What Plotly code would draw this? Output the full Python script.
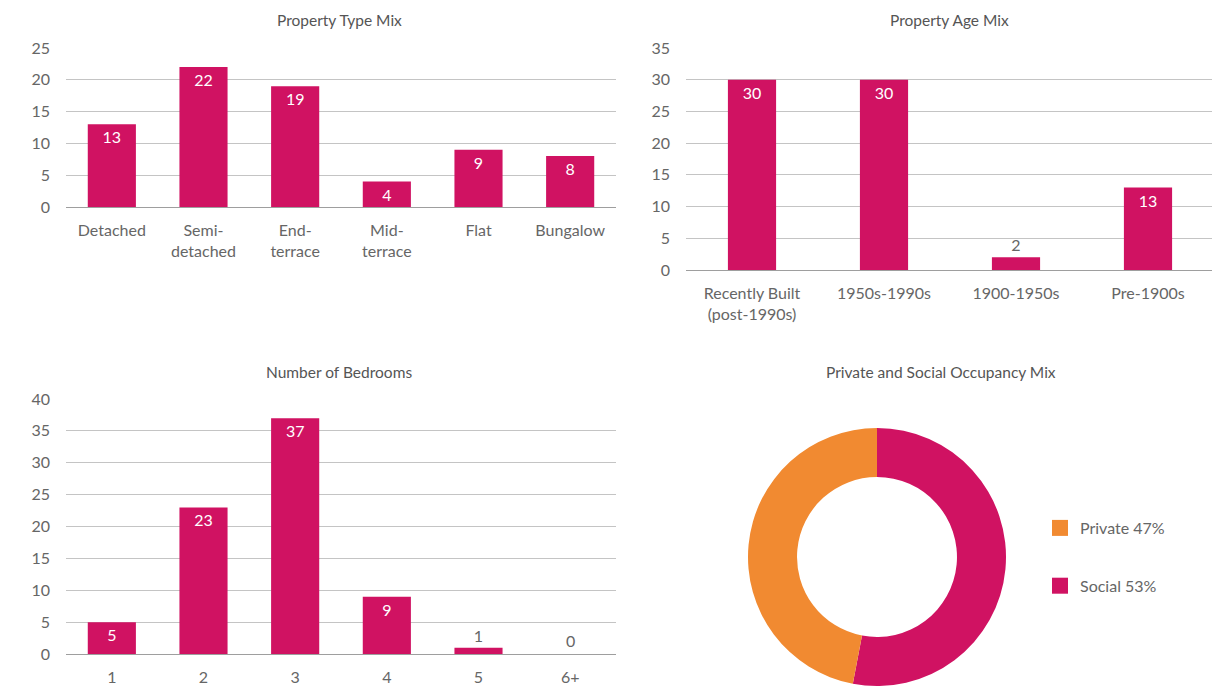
import plotly.graph_objects as go

# ---- data ----
type_labels = ["Detached", "Semi-<br>detached", "End-<br>terrace", "Mid-<br>terrace", "Flat", "Bungalow"]
type_values = [13, 22, 19, 4, 9, 8]

age_labels = ["Recently Built<br>(post-1990s)", "1950s-1990s", "1900-1950s", "Pre-1900s"]
age_values = [30, 30, 2, 13]

bed_labels = ["1", "2", "3", "4", "5", "6+"]
bed_values = [5, 23, 37, 9, 1, 0]

occ_labels = ["Private 47%", "Social 53%"]
occ_values = [47, 53]

# ---- style ----
W, H = 1220, 688
OFF = 8  # page body margin
PINK = "#D01262"
ORANGE = "#F18A31"
GRID = "#C4C4C4"
ZERO = "#9E9E9E"
TXT = "#666666"
FONT = "Lato"
occ_colors = [ORANGE, PINK]

def px(x):
    return (x - OFF) / W

def py(y):
    return 1 - (y - OFF) / H

fig = go.Figure()

def bar(xl, yv, xa, ya, w):
    return go.Bar(
        x=xl, y=yv, xaxis=xa, yaxis=ya, width=w,
        marker=dict(color=PINK, line=dict(width=0)),
        text=[str(v) for v in yv],
        textposition="auto",
        insidetextanchor="end",
        textangle=0,
        insidetextfont=dict(color="white", size=16, family=FONT),
        outsidetextfont=dict(color=TXT, size=16, family=FONT),
        cliponaxis=False,
        showlegend=False,
        hoverinfo="x+y",
    )

fig.add_trace(bar(type_labels, type_values, "x", "y", 0.525))
fig.add_trace(bar(age_labels, age_values, "x2", "y2", 0.365))
fig.add_trace(bar(bed_labels, bed_values, "x3", "y3", 0.525))

# Social first so that Private sits on the left side of 12 o'clock
fig.add_trace(go.Pie(
    labels=occ_labels[::-1], values=occ_values[::-1],
    hole=0.62, sort=False, direction="clockwise", rotation=0,
    marker=dict(colors=occ_colors[::-1], line=dict(width=0)),
    textinfo="none", showlegend=False,
    domain=dict(x=[px(748), px(1006)], y=[py(686), py(428)]),
))

# legend entries for the donut (with wider spacing)
for lab, col in zip(occ_labels, occ_colors):
    fig.add_trace(go.Scatter(
        x=[None], y=[None], xaxis="x", yaxis="y", mode="markers",
        marker=dict(symbol="square", size=16, color=col),
        name=lab, legendgroup=lab, showlegend=True,
    ))

axfont = dict(family=FONT, size=16, color=TXT)

def xax(dom, anchor):
    return dict(domain=dom, anchor=anchor, showgrid=False, showline=False,
                ticks="", tickfont=axfont, ticklabelstandoff=12,
                fixedrange=True, automargin=False)

def yax(dom, anchor, rng, dt):
    return dict(domain=dom, anchor=anchor, range=rng, dtick=dt,
                showgrid=True, gridcolor=GRID, gridwidth=1,
                zeroline=True, zerolinecolor=ZERO, zerolinewidth=1,
                showline=False, ticks="", tickfont=axfont,
                ticklabelstandoff=15, fixedrange=True, automargin=False)

tfont = dict(family=FONT, size=15.5, color="#555555")

def title(text, x, y):
    return dict(text=text, x=px(x), y=py(y), xref="paper", yref="paper",
                xanchor="center", yanchor="middle", showarrow=False, font=tfont)

annotations = [
    title("Property Type Mix", 339, 20),
    title("Property Age Mix", 949, 20),
    title("Number of Bedrooms", 339, 372),
    title("Private and Social Occupancy Mix", 941, 372),
]
# labels for zero-height bars (plotly hides text on empty bars)
for lab, v in zip(bed_labels, bed_values):
    if v == 0:
        annotations.append(dict(text=str(v), x=lab, y=v, xref="x3", yref="y3",
                                yanchor="bottom", yshift=2, showarrow=False,
                                font=dict(family=FONT, size=16, color=TXT)))

fig.update_layout(
    width=W, height=H,
    margin=dict(l=0, r=0, t=0, b=0, pad=0),
    paper_bgcolor="white", plot_bgcolor="white",
    font=dict(family=FONT, color=TXT),
    xaxis=xax([px(66), px(616)], "y"),
    yaxis=yax([py(207), py(48)], "x", [0, 25], 5),
    xaxis2=xax([px(686), px(1214)], "y2"),
    yaxis2=yax([py(270), py(48)], "x2", [0, 35], 5),
    xaxis3=xax([px(66), px(616)], "y3"),
    yaxis3=yax([py(654), py(399)], "x3", [0, 40], 5),
    legend=dict(x=px(1040), y=py(511), xanchor="left", yanchor="top",
                font=dict(family=FONT, size=16, color=TXT),
                tracegroupgap=34, itemsizing="trace",
                bgcolor="rgba(0,0,0,0)"),
    annotations=annotations,
)

fig.write_html("out.html")
